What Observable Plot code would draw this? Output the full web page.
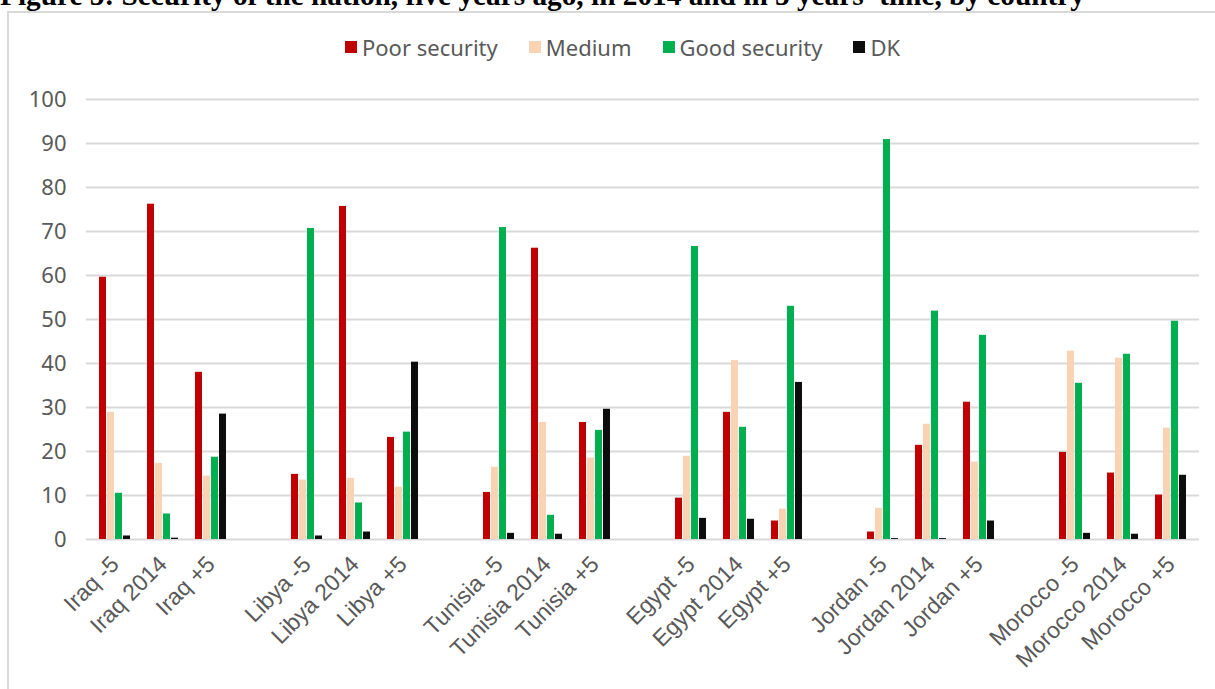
<!DOCTYPE html>
<html>
<head>
<meta charset="utf-8">
<script src="https://cdn.jsdelivr.net/npm/d3@7"></script>
<script src="https://cdn.jsdelivr.net/npm/@observablehq/plot@0.6"></script>
<style>
  body { margin: 0; background: #fff; width: 1215px; height: 689px; overflow: hidden; position: relative; }
  #title { position: absolute; left: 0; top: -19px; font: bold 29.3px/29px "Liberation Serif", serif; color: #000; white-space: nowrap; }
  #frame { position: absolute; left: 7px; top: 11px; width: 1300px; height: 800px; border-top: 2px solid #d9d9d9; border-left: 2px solid #d9d9d9; }
  #legend { position: absolute; left: 345px; top: 32px; display: flex; align-items: center; font: 22px/30px "Noto Sans", sans-serif; color: #595959; }
  #legend .item { display: flex; align-items: center; margin-right: 31px; }
  #legend .sw { width: 12px; height: 12px; margin-right: 5px; }
  .layer { position: absolute; left: 0; top: 0; }
  #grid svg { font-variant-numeric: oldstyle-nums; }
</style>
</head>
<body>
<div id="title">Figure 5: Security of the nation, five years ago, in 2014 and in 5 years' time, by country</div>
<div id="frame"></div>
<div id="legend"></div>
<div id="grid" class="layer"></div>
<div id="bars" class="layer"></div>
<script>
// Countries and the three time points asked about
const countries = ["Iraq", "Libya", "Tunisia", "Egypt", "Jordan", "Morocco"];
const periods = ["-5", "2014", "+5"];

// Answer categories and their colours
const series = ["Poor security", "Medium", "Good security", "DK"];
const colors = ["#C00000", "#F9D3B4", "#00B050", "#0D0D0D"];

// Percentages, in the order Iraq -5, Iraq 2014, Iraq +5, Libya -5, ...
const poor   = [59.6, 76.2, 38.0, 14.8, 75.7, 23.2, 10.7, 66.2, 26.6, 9.4, 28.9, 4.2, 1.7, 21.4, 31.2, 19.8, 15.1, 10.1];
const medium = [28.9, 17.3, 14.4, 13.5, 13.9, 11.9, 16.4, 26.6, 18.5, 18.9, 40.7, 6.9, 7.1, 26.2, 17.6, 42.8, 41.2, 25.3];
const good   = [10.5, 5.8, 18.7, 70.7, 8.3, 24.4, 70.9, 5.5, 24.8, 66.6, 25.5, 53.0, 90.9, 51.9, 46.4, 35.5, 42.1, 49.6];
const dk     = [0.8, 0.3, 28.5, 0.8, 1.7, 40.3, 1.4, 1.2, 29.6, 4.8, 4.6, 35.7, 0.2, 0.2, 4.2, 1.4, 1.2, 14.6];

// y-axis ticks
const yTicks = [0, 10, 20, 30, 40, 50, 60, 70, 80, 90, 100];

// Slots along the x axis: one per country/period, with an empty slot between countries
const slots = [];
const labels = [];
countries.forEach((c, i) => {
  if (i > 0) slots.push(" ".repeat(i));
  periods.forEach(p => { slots.push(`${c} ${p}`); labels.push(`${c} ${p}`); });
});

const valuesBySeries = [poor, medium, good, dk];
const rows = [];
labels.forEach((label, i) => {
  series.forEach((s, j) => rows.push({slot: label, series: s, value: valuesBySeries[j][i]}));
});

// Legend
const legend = document.getElementById("legend");
series.forEach((s, j) => {
  const item = document.createElement("div");
  item.className = "item";
  const sw = document.createElement("span");
  sw.className = "sw";
  sw.style.background = colors[j];
  const tx = document.createElement("span");
  tx.textContent = s;
  item.append(sw, tx);
  legend.append(item);
});

// Shared frame geometry for both layers
const frame = {width: 1215, height: 689, marginTop: 99, marginBottom: 150, marginLeft: 86, marginRight: 16};

// Back layer: continuous gridlines and the value axis
const grid = Plot.plot({
  ...frame,
  style: {background: "transparent", fontFamily: "Noto Sans"},
  y: {domain: [0, 100], axis: null},
  marks: [
    Plot.ruleY(yTicks, {stroke: "#d9d9d9", strokeWidth: 2}),
    Plot.axisY({ticks: yTicks, tickSize: 0, tickPadding: 20, fontSize: 22, fill: "#595959", label: null})
  ]
});
document.getElementById("grid").append(grid);

// Front layer: grouped bars, one group per country/period
const bars = Plot.plot({
  ...frame,
  style: {background: "transparent", overflow: "visible", fontFamily: "Liberation Sans"},
  fx: {domain: slots, paddingInner: 0.28, paddingOuter: 0.14, label: null},
  x: {domain: series, padding: 0.1, axis: null},
  y: {domain: [0, 100], axis: null},
  color: {domain: series, range: colors},
  marks: [
    Plot.barY(rows, {fx: "slot", x: "series", y: "value", fill: "series"}),
    Plot.axisFx({anchor: "bottom", tickRotate: -45, tickSize: 0, tickPadding: 21, fontSize: 23,
      fill: "#595959", label: null, tickFormat: d => d.trim()})
  ]
});
document.getElementById("bars").append(bars);
</script>
</body>
</html>
